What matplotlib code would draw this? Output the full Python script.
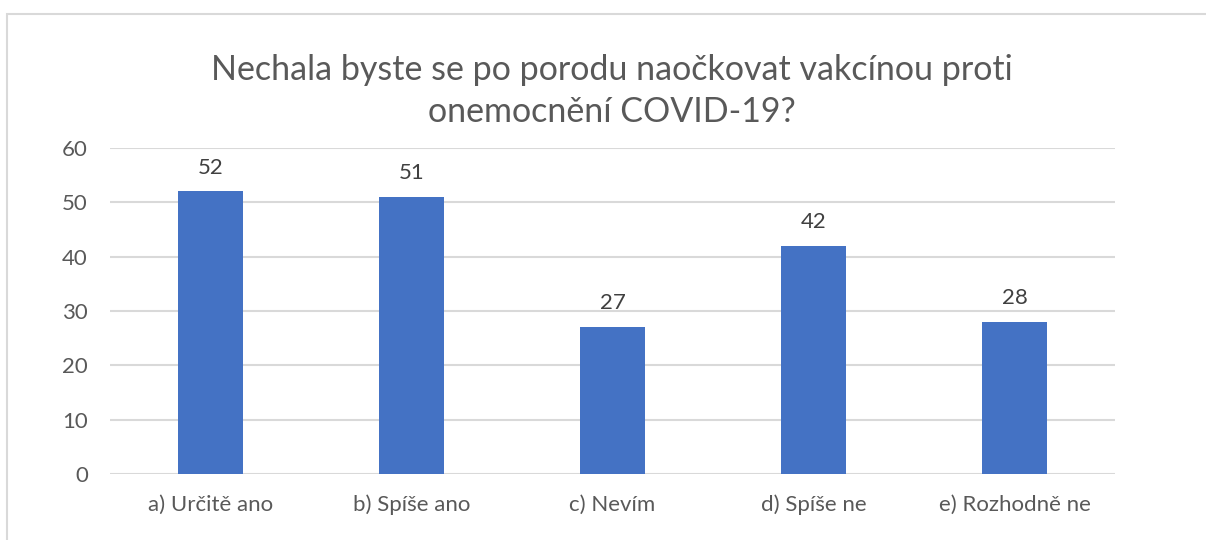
import matplotlib.pyplot as plt
from matplotlib.patches import Rectangle

plt.rcParams['font.family'] = ['Lato', 'DejaVu Sans']

categories = ["a) Určitě ano", "b) Spíše ano", "c) Nevím", "d) Spíše ne", "e) Rozhodně ne"]
values = [52, 51, 27, 42, 28]
yticks = [0, 10, 20, 30, 40, 50, 60]
title = "Nechala byste se po porodu naočkovat vakcínou proti\nonemocnění COVID-19?"

text_col = "#595959"
bar_col = "#4472C4"
grid_col = "#D9D9D9"

fig = plt.figure(figsize=(12.06, 5.4), dpi=100)
# chart frame like the Excel chart area
fig.patches.append(Rectangle((7 / 1206, -0.05), 1.1, (540 - 14) / 540 + 0.05,
                             transform=fig.transFigure, fill=False,
                             edgecolor=grid_col, linewidth=1.5))

ax = fig.add_axes([110 / 1206, (540 - 474) / 540, 1005 / 1206, (474 - 148) / 540])
x = range(len(categories))
bars = ax.bar(x, values, width=0.32, color=bar_col, zorder=3)
for xi, v in zip(x, values):
    ax.annotate(str(v), (xi, v), xytext=(0, 10), textcoords="offset points",
                ha="center", va="bottom", fontsize=16, color="#404040")

ax.set_xlim(-0.5, len(categories) - 0.5)
ax.set_ylim(0, 60)
ax.set_yticks(yticks)
ax.set_xticks(list(x))
ax.set_xticklabels(categories)
ax.tick_params(axis="both", length=0, labelsize=16, colors=text_col)
ax.tick_params(axis="x", pad=15)
ax.tick_params(axis="y", pad=16)
ax.yaxis.grid(True, color=grid_col, linewidth=1.5, zorder=0)
for s in ax.spines.values():
    s.set_visible(False)

fig.text(612 / 1206, 1 - 91 / 540, title, ha="center", va="center",
         fontsize=24.5, color=text_col, linespacing=1.38)

fig.savefig("out.png", dpi=100)
